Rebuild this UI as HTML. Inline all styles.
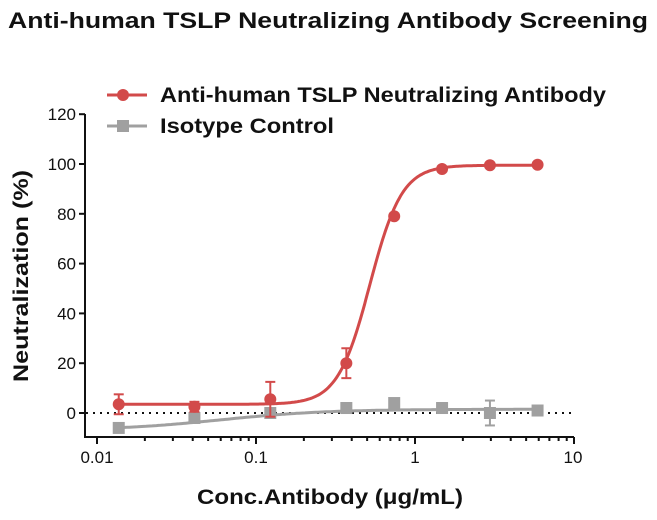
<!DOCTYPE html>
<html><head><meta charset="utf-8"><style>
body{margin:0;background:#fff;}
svg{display:block;font-family:"Liberation Sans",sans-serif;}
</style></head><body>
<svg id="s" width="657" height="520" viewBox="0 0 657 520">
<text x="328" y="28" text-anchor="middle" font-size="22" font-weight="bold" fill="#111" textLength="640" lengthAdjust="spacingAndGlyphs">Anti-human TSLP Neutralizing Antibody Screening</text>
<g stroke="#111" stroke-width="2" fill="none">
<line x1="85" y1="114" x2="85" y2="438"/>
<line x1="84" y1="437" x2="574" y2="437"/>
</g>
<g id="ticks" stroke="#111" stroke-width="2"></g>
<line x1="86" y1="413" x2="573" y2="413" stroke="#111" stroke-width="2" stroke-dasharray="2,5"/>
<g font-size="17" fill="#111" text-anchor="end" id="yl"></g>
<g font-size="17" fill="#111" text-anchor="middle">
<text x="97" y="463">0.01</text><text x="256" y="463">0.1</text><text x="415" y="463">1</text><text x="573" y="463">10</text>
</g>
<text transform="translate(28,276) rotate(-90)" text-anchor="middle" font-size="21" font-weight="bold" fill="#111" textLength="212" lengthAdjust="spacingAndGlyphs">Neutralization (%)</text>
<text x="330" y="504" text-anchor="middle" font-size="21" font-weight="bold" fill="#111" textLength="266" lengthAdjust="spacingAndGlyphs">Conc.Antibody (μg/mL)</text>
<line x1="107" y1="95" x2="147" y2="95" stroke="#d24a4a" stroke-width="3"/>
<circle cx="123" cy="95" r="6" fill="#d24a4a"/>
<text x="160" y="102" font-size="21" font-weight="bold" fill="#111" textLength="446" lengthAdjust="spacingAndGlyphs">Anti-human TSLP Neutralizing Antibody</text>
<line x1="107" y1="126" x2="147" y2="126" stroke="#a0a0a0" stroke-width="3"/>
<rect x="117" y="120" width="12" height="12" fill="#a0a0a0"/>
<text x="160" y="133" font-size="21" font-weight="bold" fill="#111" textLength="174" lengthAdjust="spacingAndGlyphs">Isotype Control</text>
<g id="data"></g>
</svg>
<script>
const NS="http://www.w3.org/2000/svg";
function X(c){return 97+159*Math.log10(c/0.01);}
function Y(v){return 413-2.49*v;}
function el(p,t,a){const e=document.createElementNS(NS,t);for(const k in a)e.setAttribute(k,a[k]);document.getElementById(p).appendChild(e);return e;}
for(let v=0;v<=120;v+=20){el("ticks","line",{x1:79,x2:85,y1:Y(v),y2:Y(v)});const t=el("yl","text",{x:76,y:Y(v)+6});t.textContent=v;}
for(let d=-2;d<=1;d++){for(let m=1;m<10;m++){if(d==1&&m>1)break;const x=97+159*(d+2+Math.log10(m));el("ticks","line",{x1:x,x2:x,y1:437,y2:m==1?444:441});}}
const cs=[0.0137,0.041,0.123,0.37,0.74,1.48,2.96,5.9];
const gv=[-6,-2,0,2,4,2,0,1],ge=[1.5,1,2,2,1.5,2,5,1.5];
const rv=[3.5,2.5,5.5,20,79,98,99.5,99.7],re=[4,2,7,6,1,1,0.5,0.5];
let gp="";for(let i=0;i<=200;i++){const lc=Math.log10(0.0137)+i/200*(Math.log10(5.9)-Math.log10(0.0137));const c=Math.pow(10,lc);const v=-7+8.5/(1+Math.pow(0.06/c,1.3));gp+=(i?"L":"M")+X(c).toFixed(1)+","+Y(v).toFixed(1);}
el("data","path",{d:gp,stroke:"#a0a0a0","stroke-width":3,fill:"none"});
cs.forEach((c,i)=>{el("data","line",{x1:X(c),x2:X(c),y1:Y(gv[i]-ge[i]),y2:Y(gv[i]+ge[i]),stroke:"#a0a0a0","stroke-width":2});
[gv[i]-ge[i],gv[i]+ge[i]].forEach(v=>el("data","line",{x1:X(c)-5,x2:X(c)+5,y1:Y(v),y2:Y(v),stroke:"#a0a0a0","stroke-width":2}));
el("data","rect",{x:X(c)-6,y:Y(gv[i])-6,width:12,height:12,fill:"#a0a0a0"});});
let rp="";for(let i=0;i<=300;i++){const lc=Math.log10(0.0137)+i/300*(Math.log10(5.9)-Math.log10(0.0137));const c=Math.pow(10,lc);const v=3.5+96/(1+Math.pow(0.52/c,4.3));rp+=(i?"L":"M")+X(c).toFixed(1)+","+Y(v).toFixed(1);}
el("data","path",{d:rp,stroke:"#d24a4a","stroke-width":3,fill:"none"});
cs.forEach((c,i)=>{el("data","line",{x1:X(c),x2:X(c),y1:Y(rv[i]-re[i]),y2:Y(rv[i]+re[i]),stroke:"#d24a4a","stroke-width":2});
[rv[i]-re[i],rv[i]+re[i]].forEach(v=>el("data","line",{x1:X(c)-5,x2:X(c)+5,y1:Y(v),y2:Y(v),stroke:"#d24a4a","stroke-width":2}));
el("data","circle",{cx:X(c),cy:Y(rv[i]),r:6,fill:"#d24a4a"});});
</script>
</body></html>
